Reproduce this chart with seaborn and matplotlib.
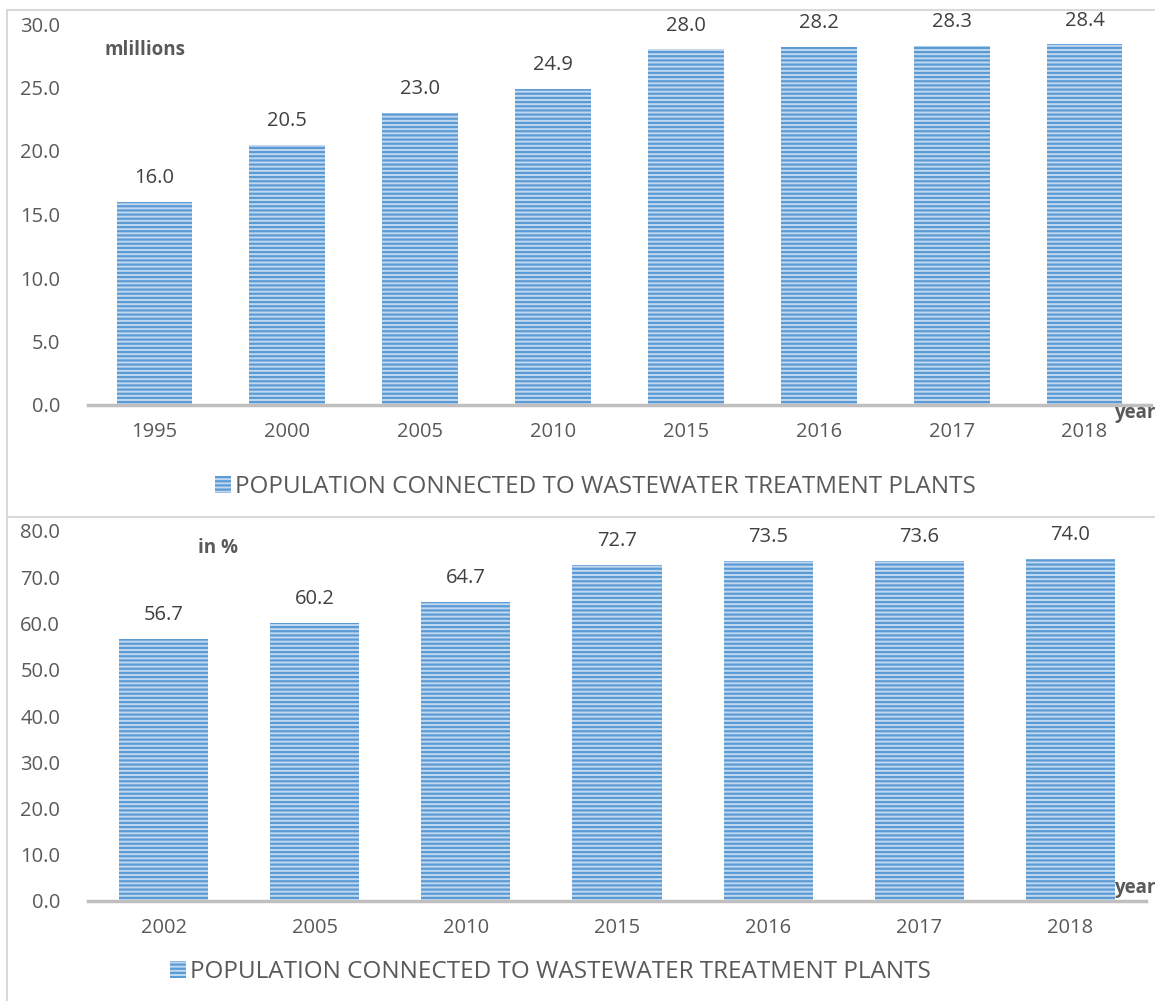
import matplotlib
matplotlib.use("Agg")
import matplotlib.pyplot as plt
import matplotlib.patches as mpatches
import seaborn as sns

years_top = ["1995", "2000", "2005", "2010", "2015", "2016", "2017", "2018"]
pop_millions = [16.0, 20.5, 23.0, 24.9, 28.0, 28.2, 28.3, 28.4]

years_bottom = ["2002", "2005", "2010", "2015", "2016", "2017", "2018"]
pop_percent = [56.7, 60.2, 64.7, 72.7, 73.5, 73.6, 74.0]

legend_label = "POPULATION CONNECTED TO WASTEWATER TREATMENT PLANTS"

sns.set_theme(style="white")
plt.rcParams["font.family"] = ["Open Sans", "DejaVu Sans"]
plt.rcParams["hatch.linewidth"] = 1.6

W, H = 1155, 1001
fig = plt.figure(figsize=(W / 100, H / 100), dpi=100)

face = "#c2d8f0"
hatch_col = "#5b9bd5"
text_col = "#595959"
label_col = "#404040"


def fx(px):
    return px / W


def fy(py):
    return 1 - py / H


def draw_panel(ax, cats, vals, ymax, step, width):
    sns.barplot(x=cats, y=vals, ax=ax, color=face, width=width,
                saturation=1, edgecolor=hatch_col, linewidth=0)
    for p in ax.patches:
        p.set_hatch("----")
        p.set_facecolor(face)
        p.set_edgecolor(hatch_col)
        p.set_linewidth(0)
    for i, v in enumerate(vals):
        ax.annotate(f"{v:.1f}", (i, v), xytext=(0, 17), textcoords="offset points",
                    ha="center", va="center", fontsize=14.5, color=label_col)
    ax.set_ylim(0, ymax)
    n = int(ymax / step) + 1
    ax.set_yticks([i * step for i in range(n)])
    ax.set_yticklabels([f"{i * step:.1f}" for i in range(n)])
    ax.set_xlim(-0.5, len(cats) - 0.5)
    for s in ["top", "right", "left"]:
        ax.spines[s].set_visible(False)
    ax.spines["bottom"].set_color("#bfbfbf")
    ax.spines["bottom"].set_linewidth(2.5)
    ax.tick_params(axis="both", length=0, labelsize=14.5, colors=text_col)
    ax.tick_params(axis="x", pad=12)
    ax.tick_params(axis="y", pad=20)
    ax.set_xlabel("")
    ax.set_ylabel("")


# top panel
ax1 = fig.add_axes([fx(88), fy(405), fx(1151 - 88), (405 - 24) / H])
draw_panel(ax1, years_top, pop_millions, 30, 5, 0.57)

# bottom panel
ax2 = fig.add_axes([fx(88), fy(901), fx(1146 - 88), (901 - 531) / H])
draw_panel(ax2, years_bottom, pop_percent, 80, 10, 0.59)

# unit labels
fig.text(fx(145), fy(50), "mlillions", ha="center", va="center",
         fontsize=13.5, fontweight="bold", color=text_col)
fig.text(fx(218), fy(548), "in %", ha="center", va="center",
         fontsize=13.5, fontweight="bold", color=text_col)
fig.text(fx(1156), fy(413), "year", ha="right", va="center",
         fontsize=13.5, fontweight="bold", color=text_col)
fig.text(fx(1156), fy(888), "year", ha="right", va="center",
         fontsize=13.5, fontweight="bold", color=text_col)

# legends
for x, y in [(203, 487), (158, 972)]:
    handle = mpatches.Patch(facecolor=face, edgecolor=hatch_col, hatch="----",
                            linewidth=0, label=legend_label)
    fig.legend(handles=[handle], loc="center left",
               bbox_to_anchor=(fx(x), fy(y)), frameon=False,
               fontsize=17.5, labelcolor=text_col, handlelength=0.65,
               handleheight=0.65, handletextpad=0.15, borderpad=0)

# panel frames
frame_col = "#d9d9d9"
fig.add_artist(mpatches.Rectangle((fx(7), fy(517)), fx(1160 - 7), (517 - 10) / H,
                                  transform=fig.transFigure, fill=False,
                                  edgecolor=frame_col, linewidth=1.5))
fig.add_artist(mpatches.Rectangle((fx(7), fy(1005)), fx(1160 - 7), (1005 - 517) / H,
                                  transform=fig.transFigure, fill=False,
                                  edgecolor=frame_col, linewidth=1.5))

fig.savefig("out.png", dpi=100)
